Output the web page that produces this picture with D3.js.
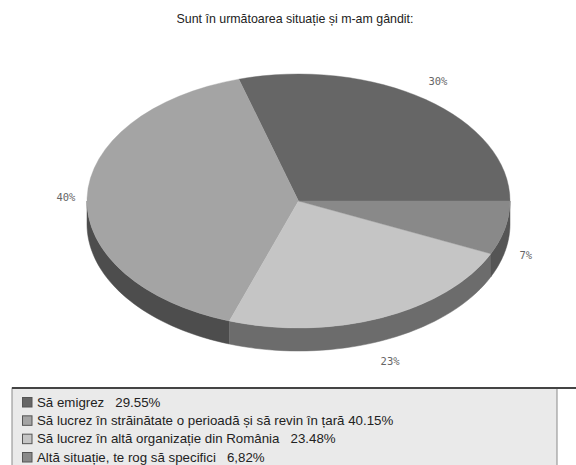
<html>
<head>
<style>
  body { margin: 0; background: #fff; }
  svg { display: block; }
</style>
<script src="https://d3js.org/d3.v7.min.js"></script>
</head>
<body>
<svg id="chart" width="576" height="465"></svg>
<script>
// data
const categories = [
  "Să emigrez",
  "Să lucrez în străinătate o perioadă și să revin în țară",
  "Să lucrez în altă organizație din România",
  "Altă situație, te rog să specifici"
];
const values = [29.55, 40.15, 23.48, 6.82];
const legendValues = ["29.55%", "40.15%", "23.48%", "6,82%"];
const legendGaps = ["   ", " ", "   ", "   "];
const sliceLabels = ["30%", "40%", "23%", "7%"];
const topColors = ["#666666", "#a4a4a4", "#c5c5c5", "#898989"];
const sideColors = ["#4a4a4a", "#4d4d4d", "#6c6c6c", "#555555"];
const title = "Sunt în următoarea situație și m-am gândit:";

const svg = d3.select("#chart");

const cx = 298.5, cy = 201, rx = 211.5, ry = 127, depth = 23;

// title
svg.append("text")
  .attr("x", 295)
  .attr("y", 23)
  .attr("text-anchor", "middle")
  .style("font-family", "Liberation Sans, Arial, sans-serif")
  .style("font-size", "12.4px")
  .style("fill", "#222")
  .text(title);

// angles: start at 3 o'clock, going counter-clockwise
const total = d3.sum(values);
const angle = d3.scaleLinear().domain([0, total]).range([0, 2 * Math.PI]);
let acc = 0;
const slices = values.map((v, i) => {
  const a0 = angle(acc);
  acc += v;
  const a1 = angle(acc);
  return { i, a0, a1, mid: (a0 + a1) / 2 };
});

const px = t => cx + rx * Math.cos(t);
const py = t => cy - ry * Math.sin(t);

// side walls (front half only: angles between PI and 2PI)
const sideG = svg.append("g");
slices.forEach(s => {
  const lo = Math.max(s.a0, Math.PI);
  const hi = Math.min(s.a1, 2 * Math.PI);
  if (hi <= lo) return;
  const steps = d3.range(0, 41).map(k => lo + (hi - lo) * k / 40);
  const path = d3.path();
  path.moveTo(px(steps[0]), py(steps[0]));
  steps.forEach(t => path.lineTo(px(t), py(t)));
  steps.slice().reverse().forEach(t => path.lineTo(px(t), py(t) + depth));
  path.closePath();
  sideG.append("path")
    .attr("d", path.toString())
    .attr("fill", sideColors[s.i])
    .attr("stroke", sideColors[s.i])
    .attr("stroke-width", 0.5);
});

// top faces: d3.arc on a circle, squashed vertically
const arc = d3.arc().innerRadius(0).outerRadius(rx);
svg.append("g")
  .attr("transform", `translate(${cx},${cy}) scale(1,${ry / rx})`)
  .selectAll("path")
  .data(slices)
  .join("path")
  .attr("d", d => arc({ startAngle: Math.PI / 2 - d.a1, endAngle: Math.PI / 2 - d.a0 }))
  .attr("fill", d => topColors[d.i])
  .attr("stroke", d => topColors[d.i])
  .attr("stroke-width", 0.5);

// slice labels
svg.append("g")
  .selectAll("text")
  .data(slices)
  .join("text")
  .attr("x", d => cx + 1.1 * rx * Math.cos(d.mid))
  .attr("y", d => cy - 1.18 * ry * Math.sin(d.mid) + (Math.sin(d.mid) < 0 ? depth : 0) + 3.5)
  .attr("text-anchor", "middle")
  .style("font-family", "DejaVu Sans Mono, monospace")
  .style("font-size", "10.5px")
  .style("fill", "#666")
  .text(d => sliceLabels[d.i]);

// legend
const lg = svg.append("g");
lg.append("rect")
  .attr("x", 12).attr("y", 388)
  .attr("width", 545).attr("height", 90)
  .attr("fill", "#eaeaea")
  .attr("stroke", "#8a8a8a")
  .attr("stroke-width", 1);
lg.append("line")
  .attr("x1", 12).attr("x2", 576)
  .attr("y1", 388).attr("y2", 388)
  .attr("stroke", "#444")
  .attr("stroke-width", 2);

const rowY = d3.scaleLinear().domain([0, 3]).range([402, 457]);
const rows = lg.selectAll("g.row")
  .data(categories)
  .join("g")
  .attr("class", "row")
  .attr("transform", (d, i) => `translate(0,${rowY(i)})`);
rows.append("rect")
  .attr("x", 22.5).attr("y", -4.5)
  .attr("width", 9.5).attr("height", 9.5)
  .attr("fill", (d, i) => topColors[i])
  .attr("stroke", "#555")
  .attr("stroke-width", 1);
rows.append("text")
  .attr("x", 37)
  .attr("y", 4.5)
  .style("font-family", "Liberation Sans, Arial, sans-serif")
  .style("font-size", "13.3px")
  .style("fill", "#222")
  .style("white-space", "pre")
  .text((d, i) => d + legendGaps[i] + legendValues[i]);
</script>
</body>
</html>
